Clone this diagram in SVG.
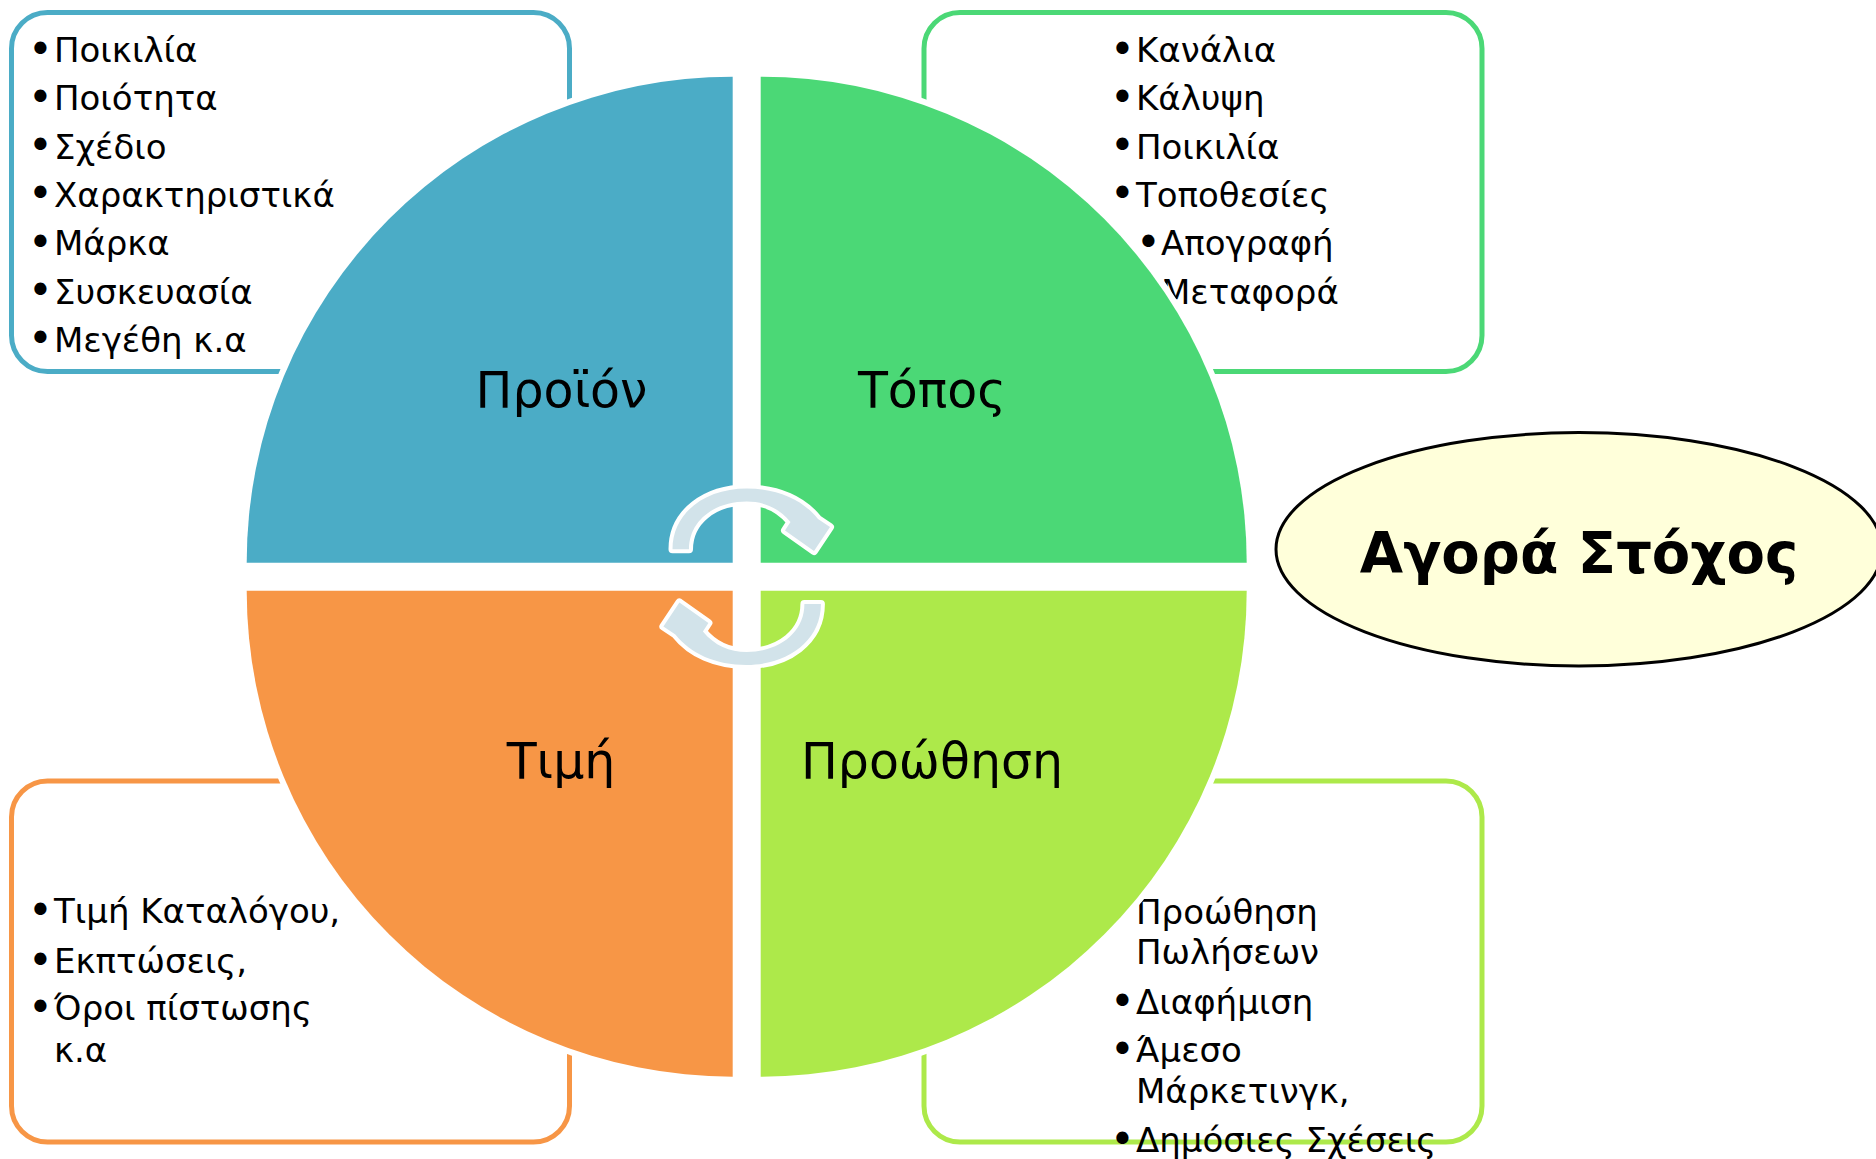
<svg xmlns="http://www.w3.org/2000/svg" xmlns:xlink="http://www.w3.org/1999/xlink" width="1876" height="1159" viewBox="0 0 1876 1159">
<style>
.box{fill:#fff;stroke-width:5}
.item{font-family:"DejaVu Sans",sans-serif;font-size:34px;fill:#000}
.b{font-size:42px}
.q{stroke:#fff;stroke-width:12;paint-order:stroke;stroke-linejoin:miter}
.lbl{font-family:"DejaVu Sans",sans-serif;font-size:49px;fill:#000;text-anchor:middle}
.arr{fill:#D2E3EA;stroke:#fff;stroke-width:8;paint-order:stroke;stroke-linejoin:round}
</style>
<defs>
<path id="arrow" class="arr" d="M 672.5 549.3 C 672.5 512 706 488.5 746.7 488.5 C 778 488.5 803 500 818 519 L 830 527 L 814 551 L 785 530.5 L 790.5 522 C 779 508 764 501.5 746.7 501.5 C 714 501.5 689 521 689 549.3 Z"/>
</defs>
<rect width="1876" height="1159" fill="#fff"/>

<g id="box-product">
<rect class="box" x="11.5" y="12.5" width="558" height="359" rx="36" stroke="#4BACC6"/>
<text class="item"><tspan class="b" x="28" y="63.5">•</tspan><tspan x="54" y="62">Ποικιλία</tspan></text>
<text class="item"><tspan class="b" x="28" y="111.8">•</tspan><tspan x="54" y="110.3">Ποιότητα</tspan></text>
<text class="item"><tspan class="b" x="28" y="160.1">•</tspan><tspan x="54" y="158.6">Σχέδιο</tspan></text>
<text class="item"><tspan class="b" x="28" y="208.4">•</tspan><tspan x="54" y="206.9">Χαρακτηριστικά</tspan></text>
<text class="item"><tspan class="b" x="28" y="256.7">•</tspan><tspan x="54" y="255.2">Μάρκα</tspan></text>
<text class="item"><tspan class="b" x="28" y="305">•</tspan><tspan x="54" y="303.5">Συσκευασία</tspan></text>
<text class="item"><tspan class="b" x="28" y="353.3">•</tspan><tspan x="54" y="351.8">Μεγέθη κ.α</tspan></text>
</g>

<g id="box-place">
<rect class="box" x="924" y="12.5" width="558" height="359" rx="36" stroke="#4BD876"/>
<text class="item"><tspan class="b" x="1110" y="63.5">•</tspan><tspan x="1136" y="62">Κανάλια</tspan></text>
<text class="item"><tspan class="b" x="1110" y="111.8">•</tspan><tspan x="1136" y="110.3">Κάλυψη</tspan></text>
<text class="item"><tspan class="b" x="1110" y="160.1">•</tspan><tspan x="1136" y="158.6">Ποικιλία</tspan></text>
<text class="item"><tspan class="b" x="1110" y="208.4">•</tspan><tspan x="1136" y="206.9">Τοποθεσίες</tspan></text>
<text class="item"><tspan class="b" x="1136" y="256.7">•</tspan><tspan x="1161" y="255.2">Απογραφή</tspan></text>
<text class="item"><tspan class="b" x="1136" y="305">•</tspan><tspan x="1161" y="303.5">Μεταφορά</tspan></text>
</g>

<g id="box-price">
<rect class="box" x="11.5" y="781" width="558" height="361" rx="36" stroke="#F79646"/>
<text class="item"><tspan class="b" x="28" y="924.5">•</tspan><tspan x="54" y="923">Τιμή Καταλόγου,</tspan></text>
<text class="item"><tspan class="b" x="28" y="974.5">•</tspan><tspan x="54" y="973">Εκπτώσεις,</tspan></text>
<text class="item"><tspan class="b" x="28" y="1021.5">•</tspan><tspan x="54" y="1020">Όροι πίστωσης</tspan><tspan x="54" y="1062">κ.α</tspan></text>
</g>

<g id="box-promotion">
<rect class="box" x="924" y="781" width="558" height="361" rx="36" stroke="#ADE94A"/>
<text class="item"><tspan class="b" x="1110" y="925.5">•</tspan><tspan x="1136" y="924">Προώθηση</tspan><tspan x="1136" y="964">Πωλήσεων</tspan></text>
<text class="item"><tspan class="b" x="1110" y="1015.5">•</tspan><tspan x="1136" y="1014">Διαφήμιση</tspan></text>
<text class="item"><tspan class="b" x="1110" y="1063.5">•</tspan><tspan x="1136" y="1062">Άμεσο</tspan><tspan x="1136" y="1103">Μάρκετινγκ,</tspan></text>
<text class="item"><tspan class="b" x="1110" y="1153.5">•</tspan><tspan x="1136" y="1152">Δημόσιες Σχέσεις</tspan></text>
</g>

<g id="q-product">
<path class="q" fill="#4BACC6" d="M 732.7 562.7 L 246.7 562.7 A 486 486 0 0 1 732.7 76.7 Z"/>
<text class="lbl" x="561.5" y="407">Προϊόν</text>
</g>
<g id="q-place">
<path class="q" fill="#4BD876" d="M 760.7 562.7 L 760.7 76.7 A 486 486 0 0 1 1246.7 562.7 Z"/>
<text class="lbl" x="932" y="407">Τόπος</text>
</g>
<g id="q-promotion">
<path class="q" fill="#ADE94A" d="M 760.7 590.7 L 1246.7 590.7 A 486 486 0 0 1 760.7 1076.7 Z"/>
<text class="lbl" x="932" y="778">Προώθηση</text>
</g>
<g id="q-price">
<path class="q" fill="#F79646" d="M 732.7 590.7 L 732.7 1076.7 A 486 486 0 0 1 246.7 590.7 Z"/>
<text class="lbl" x="561" y="778">Τιμή</text>
</g>

<g id="connectors">
<use xlink:href="#arrow"/>
<use xlink:href="#arrow" transform="rotate(180 746.7 576.7)"/>
</g>

<g id="target-market">
<ellipse cx="1579" cy="549.3" rx="303" ry="116.7" fill="#FFFFDA" stroke="#000" stroke-width="3"/>
<text x="1579" y="573" text-anchor="middle" font-family="DejaVu Sans, sans-serif" font-size="56" font-weight="bold" fill="#000">Αγορά Στόχος</text>
</g>
</svg>
